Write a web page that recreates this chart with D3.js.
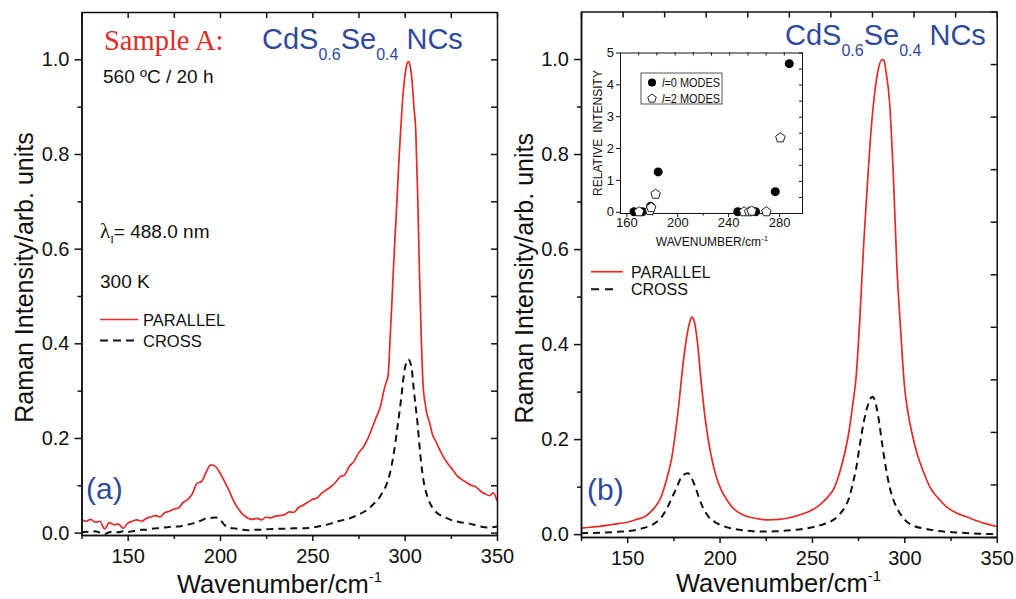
<!DOCTYPE html>
<html><head><meta charset="utf-8">
<script src="https://cdn.jsdelivr.net/npm/d3@7"></script>
<style>
body{margin:0;background:#fff;}
svg{display:block;font-family:"Liberation Sans",Arial,sans-serif;}
</style></head><body>
<svg id="c" width="1016" height="599"></svg>
<script>
// ---------------- data ----------------
const xTicks = [150, 200, 250, 300, 350];
const xMinorTicks = [125, 175, 225, 275, 325];
const yTicks = [0, 0.2, 0.4, 0.6, 0.8, 1.0];
const yMinorTicks = [0.1, 0.3, 0.5, 0.7, 0.9];
const insetXTicks = [160, 200, 240, 280];
const insetXMinor = [180, 220, 260];
const insetYTicks = [0, 1, 2, 3, 4, 5];
const seriesNames = ["PARALLEL", "CROSS"];
const insetNames = ["=0 MODES", "=2 MODES"];

// panel (a): measured spectra [wavenumber, intensity]
const parallelA = [[125,.027],[127.5,.024],[130,.028],[132.5,.022],[135,.024],[137.5,.008],[140,.021],[142.5,.017],[145,.018],[147.5,.009],[150,.020],[152.5,.024],[155,.027],[157.5,.024],[160,.030],[162.5,.033],[165,.036],[167.5,.033],[170,.042],[172.5,.045],[175,.050],[177.5,.052],[180,.064],[182.5,.070],[185,.082],[187.5,.104],[190,.108],[192.5,.128],[195,.143],[197.5,.140],[200,.126],[202.5,.108],[205,.088],[207.5,.066],[210,.050],[212.5,.038],[215,.031],[217.5,.028],[220,.030],[222.5,.027],[225,.033],[227.5,.031],[230,.035],[232.5,.036],[235,.038],[237.5,.044],[240,.043],[242.5,.053],[245,.058],[247.5,.064],[250,.070],[252.5,.073],[255,.083],[257.5,.090],[260,.097],[262.5,.106],[265,.118],[267.5,.122],[270,.140],[272.5,.150],[275,.168],[277.5,.180],[280,.198],[282.5,.222],[284,.238],[285.5,.252],[287,.268],[288.5,.296],[290,.318],[291,.33],[292,.40],[293,.48],[294,.565],[295,.64],[296,.715],[297,.795],[298,.86],[299,.92],[300,.96],[301,.987],[302,.995],[303,.985],[304,.955],[305,.90],[306,.85],[307,.72],[308,.55],[309,.41],[310,.31],[311,.275],[312,.252],[313.5,.232],[315,.208],[317,.192],[319,.175],[321,.160],[323.5,.145],[326,.133],[328.5,.120],[331,.112],[333.5,.106],[336,.100],[338.5,.097],[341,.088],[343.5,.082],[346,.078],[348,.084],[350,.067]];
const crossA = [[125,.000],[127.5,.002],[130,.001],[132.5,.003],[135,.000],[137.5,-.003],[140,.001],[142.5,.002],[145,.001],[147.5,.003],[150,.001],[152.5,.003],[155,.004],[157.5,.006],[160,.006],[162.5,.008],[165,.009],[167.5,.010],[170,.011],[172.5,.012],[175,.013],[177.5,.013],[180,.015],[182.5,.017],[185,.019],[187.5,.022],[190,.026],[192.5,.030],[195,.031],[197.5,.032],[200,.028],[202.5,.016],[205,.010],[207.5,.009],[210,.008],[212.5,.006],[215,.005],[217.5,.006],[220,.006],[225,.007],[230,.008],[235,.008],[240,.009],[245,.009],[250,.011],[255,.014],[260,.019],[265,.025],[270,.030],[275,.038],[280,.049],[283,.060],[286,.072],[288,.085],[290,.100],[292,.125],[294,.165],[296,.22],[298,.28],[300,.345],[301,.360],[302,.366],[303,.360],[304,.340],[305,.300],[306,.265],[307,.23],[308,.185],[309,.145],[310,.115],[312,.080],[314,.060],[316,.048],[318,.040],[321,.034],[325,.027],[330,.022],[335,.019],[340,.014],[345,.011],[350,.013]];

// panel (b): calculated spectra
const parallelB = [[125,.0125],[130,.0145],[135,.0165],[140,.019],[145,.022],[150,.025],[155,.031],[160,.038],[163,.048],[166,.062],[168,.075],[170,.097],[172,.125],[174,.158],[176,.21],[178,.275],[180,.35],[182,.41],[184,.448],[185,.457],[186,.452],[188,.405],[190,.322],[192,.25],[194,.196],[196,.155],[198,.124],[201,.092],[204,.072],[208,.052],[212,.042],[216,.036],[220,.033],[226,.030],[232,.031],[237,.034],[242,.039],[246,.044],[250,.051],[253,.058],[256,.068],[259,.080],[262,.097],[265,.13],[268,.175],[270,.215],[272,.27],[274,.335],[276,.46],[278,.61],[280,.735],[282,.85],[284,.93],[286,.98],[288,.999],[289,.997],[290,.975],[292,.91],[294,.76],[296,.56],[298,.43],[300,.315],[302,.255],[304,.215],[307,.168],[310,.135],[314,.098],[318,.077],[323,.057],[328,.045],[334,.036],[340,.027],[345,.021],[350,.016]];
const crossB = [[125,.002],[135,.003],[145,.005],[152,.007],[157,.011],[162,.017],[166,.026],[169,.038],[172,.058],[175,.083],[177,.100],[179,.118],[181,.126],[183,.128],[185,.117],[187,.098],[189,.075],[191,.056],[194,.037],[197,.027],[202,.017],[208,.011],[215,.007],[222,.0055],[230,.006],[238,.008],[245,.011],[252,.016],[257,.022],[262,.031],[265,.042],[268,.058],[270,.075],[272,.105],[274,.14],[276,.19],[278,.235],[280,.268],[282,.287],[283,.289],[284,.282],[286,.245],[288,.19],[290,.14],[292,.10],[294,.073],[296,.055],[299,.036],[302,.024],[306,.016],[312,.011],[320,.006],[330,.003],[340,.001],[350,.000]];

// inset: relative intensities of modes
const modesL0 = [[166,0],[172.5,0],[179,0.17],[185,1.25],[247.5,0],[261.5,0],[277,0.63],[288,4.65]];
const modesL2 = [[170,0],[178.5,0.04],[179.5,0.13],[183,0.55],[252.5,0],[256.5,0],[258.5,0.02],[270,0],[281,2.32]];

// ---------------- drawing ----------------
const RED = "#e32b23", BLUE = "#2e4a9c", FONT = "Liberation Sans, Arial, sans-serif";
const svg = d3.select("#c");

function styleAxis(g, fs, sw) {
  g.attr("font-family", FONT).attr("font-size", fs);
  g.select(".domain").attr("stroke-width", sw).attr("stroke", "#111");
  g.selectAll(".tick line").attr("stroke-width", sw).attr("stroke", "#111");
  g.selectAll(".tick text").attr("fill", "#111");
}

function mainPanel(o) {
  const x = d3.scaleLinear().domain([125, 350]).range([o.L, o.R]);
  const y = d3.scaleLinear().domain(o.yDom).range([o.B, o.T]);
  const g = svg.append("g");
  const line = d3.line().x(d => x(d[0])).y(d => y(d[1])).curve(d3.curveMonotoneX);
  g.append("path").datum(o.cross).attr("d", line).attr("fill", "none")
    .attr("stroke", "#111").attr("stroke-width", 2).attr("stroke-dasharray", "7,5");
  g.append("path").datum(o.par).attr("d", line).attr("fill", "none")
    .attr("stroke", RED).attr("stroke-width", 1.7);

  // bottom
  styleAxis(g.append("g").attr("transform", `translate(0,${o.B})`)
    .call(d3.axisBottom(x).tickValues(xMinorTicks).tickSize(4).tickSizeOuter(0).tickFormat("")), 20, 1.5);
  styleAxis(g.append("g").attr("transform", `translate(0,${o.B})`)
    .call(d3.axisBottom(x).tickValues(xTicks).tickSize(6).tickSizeOuter(0).tickPadding(8).tickFormat(d3.format("d"))), 20, 1.5);
  // left
  styleAxis(g.append("g").attr("transform", `translate(${o.L},0)`)
    .call(d3.axisLeft(y).tickValues(yMinorTicks).tickSize(4).tickSizeOuter(0).tickFormat("")), 20, 1.5);
  styleAxis(g.append("g").attr("transform", `translate(${o.L},0)`)
    .call(d3.axisLeft(y).tickValues(yTicks).tickSize(7).tickSizeOuter(0).tickPadding(5).tickFormat(d3.format(".1f"))), 20, 1.5);
  // top & right (inward)
  let topAxis, rightAxis;
  if (o.mirror) {
    topAxis = d3.axisTop(x).tickValues(xTicks.concat(xMinorTicks));
    rightAxis = d3.axisRight(y).tickValues(yTicks.concat(yMinorTicks));
  } else {
    const xs = d3.scaleLinear().domain([0, 10]).range([o.L, o.R]);
    const ys = d3.scaleLinear().domain([0, 10]).range([o.B, o.T]);
    topAxis = d3.axisTop(xs).ticks(10);
    rightAxis = d3.axisRight(ys).ticks(10);
  }
  styleAxis(g.append("g").attr("transform", `translate(0,${o.T})`)
    .call(topAxis.tickSize(-6).tickSizeOuter(0).tickFormat("")), 20, 1.5);
  styleAxis(g.append("g").attr("transform", `translate(${o.R},0)`)
    .call(rightAxis.tickSize(-6).tickSizeOuter(0).tickFormat("")), 20, 1.5);

  // axis titles
  const xt = g.append("text").attr("x", o.xtX).attr("y", o.xtY).attr("font-family", FONT)
    .attr("font-size", 25.5).attr("fill", "#111");
  xt.append("tspan").text("Wavenumber/cm");
  xt.append("tspan").attr("dy", -11).attr("font-size", 15).text("-1");
  g.append("text").attr("transform", `translate(${o.ytX},${(o.T + o.B) / 2 + 4}) rotate(-90)`)
    .attr("text-anchor", "middle").attr("font-family", FONT).attr("font-size", 25).attr("fill", "#111")
    .text("Raman Intensity/arb. units");

  // formula title
  const f = g.append("text").attr("x", o.fX).attr("y", o.fY).attr("font-family", FONT)
    .attr("font-size", 29).attr("fill", BLUE);
  f.append("tspan").text("CdS");
  f.append("tspan").attr("dy", 11).attr("font-size", 16).text("0.6");
  f.append("tspan").attr("dy", -11).text("Se");
  f.append("tspan").attr("dy", 11).attr("font-size", 16).text("0.4");
  f.append("tspan").attr("dy", -11).text(" NCs");

  // panel letter
  g.append("text").attr("x", o.lX).attr("y", o.lY).attr("font-family", FONT).attr("font-size", 30)
    .attr("fill", BLUE).text(o.letter);

  // legend
  const lg = o.legend;
  g.append("line").attr("x1", lg.x1).attr("x2", lg.x2).attr("y1", lg.y1).attr("y2", lg.y1)
    .attr("stroke", RED).attr("stroke-width", 1.7);
  g.append("line").attr("x1", lg.x1).attr("x2", lg.x2d).attr("y1", lg.y2).attr("y2", lg.y2)
    .attr("stroke", "#111").attr("stroke-width", 2).attr("stroke-dasharray", lg.dash);
  g.append("text").attr("x", lg.tx).attr("y", lg.y1 + 6).attr("font-family", FONT).attr("font-size", lg.fs)
    .attr("fill", "#111").text(seriesNames[0]);
  g.append("text").attr("x", lg.tx).attr("y", lg.y2 + 6).attr("font-family", FONT).attr("font-size", lg.fs)
    .attr("fill", "#111").text(seriesNames[1]);
  return { g, x, y };
}

const A = mainPanel({
  L: 81.5, R: 497, T: 12, B: 535, yDom: [-0.005, 1.1], par: parallelA, cross: crossA, mirror: true,
  xtX: 177, xtY: 593, ytX: 33, fX: 262, fY: 49, lX: 86, lY: 499, letter: "(a)",
  legend: { x1: 100, x2: 138, x2d: 138, y1: 319.5, y2: 340.5, tx: 143, fs: 16.5, dash: "8,5" }
});
const B = mainPanel({
  L: 581, R: 996.7, T: 11.5, B: 537, yDom: [-0.006, 1.1], par: parallelB, cross: crossB, mirror: false,
  xtX: 676, xtY: 592, ytX: 533, fX: 785, fY: 45, lX: 587, lY: 500, letter: "(b)",
  legend: { x1: 591, x2: 623, x2d: 614, y1: 271.7, y2: 289.3, tx: 631, fs: 16, dash: "8,6" }
});

// annotations panel (a)
svg.append("text").attr("x", 104).attr("y", 50).attr("font-family", "Liberation Serif, Times New Roman, serif")
  .attr("font-size", 28.5).attr("fill", RED).text("Sample A:");
svg.append("text").attr("x", 103).attr("y", 83).attr("font-family", FONT).attr("font-size", 19)
  .attr("fill", "#111").text("560 \u00baC / 20 h");
const lam = svg.append("text").attr("x", 100).attr("y", 238).attr("font-family", FONT).attr("font-size", 19).attr("fill", "#111");
lam.append("tspan").attr("font-family", "Liberation Serif, serif").attr("font-size", 21).text("\u03bb");
lam.append("tspan").attr("font-family", "Liberation Serif, serif").attr("font-size", 11).attr("dy", 5).text("I");
lam.append("tspan").attr("dy", -5).text("= 488.0 nm");
svg.append("text").attr("x", 100).attr("y", 288).attr("font-family", FONT).attr("font-size", 19)
  .attr("fill", "#111").text("300 K");

// ---------------- inset ----------------
const ix = d3.scaleLinear().domain([155, 298]).range([620, 802]);
const iy = d3.scaleLinear().domain([-0.04, 5]).range([213, 52.5]);
const ig = svg.append("g");
ig.append("rect").attr("x", 620).attr("y", 52.5).attr("width", 182).attr("height", 160.5)
  .attr("fill", "#fff").attr("stroke", "none");
styleAxis(ig.append("g").attr("transform", "translate(0,213)")
  .call(d3.axisBottom(ix).tickValues(insetXMinor).tickSize(2.5).tickSizeOuter(0).tickFormat("")), 13, 1);
styleAxis(ig.append("g").attr("transform", "translate(0,213)")
  .call(d3.axisBottom(ix).tickValues(insetXTicks).tickSize(4).tickSizeOuter(0).tickPadding(1).tickFormat(d3.format("d"))), 13, 1);
styleAxis(ig.append("g").attr("transform", "translate(620,0)")
  .call(d3.axisLeft(iy).tickValues(insetYTicks).tickSize(4).tickSizeOuter(0).tickPadding(2).tickFormat(d3.format("d"))), 13, 1);
const ixs = d3.scaleLinear().domain([0, 10]).range([620, 802]);
const iys = d3.scaleLinear().domain([0, 10]).range([213, 52.5]);
styleAxis(ig.append("g").attr("transform", "translate(0,52.5)")
  .call(d3.axisTop(ixs).ticks(10).tickSize(-3).tickSizeOuter(0).tickFormat("")), 12, 1);
styleAxis(ig.append("g").attr("transform", "translate(802,0)")
  .call(d3.axisRight(iys).ticks(10).tickSize(-3).tickSizeOuter(0).tickFormat("")), 12, 1);

const ixt = ig.append("text").attr("x", 712).attr("y", 246).attr("text-anchor", "middle")
  .attr("font-family", FONT).attr("font-size", 12).attr("fill", "#111");
ixt.append("tspan").text("WAVENUMBER/cm");
ixt.append("tspan").attr("dy", -5).attr("font-size", 8).text("-1");
ig.append("text").attr("transform", "translate(602,133) rotate(-90)").attr("text-anchor", "middle")
  .attr("font-family", FONT).attr("font-size", 12).attr("fill", "#111").text("RELATIVE\u2002INTENSITY");

function pentagon(r) {
  const pts = d3.range(5).map(i => {
    const a = -Math.PI / 2 + i * 2 * Math.PI / 5;
    return [r * Math.cos(a), r * Math.sin(a)];
  });
  return "M" + pts.map(p => p.join(",")).join("L") + "Z";
}
ig.selectAll("circle.l0").data(modesL0).join("circle").attr("class", "l0")
  .attr("cx", d => ix(d[0])).attr("cy", d => iy(d[1])).attr("r", 4.5).attr("fill", "#000");
ig.selectAll("path.l2").data(modesL2).join("path").attr("class", "l2")
  .attr("transform", d => `translate(${ix(d[0])},${iy(d[1])})`).attr("d", pentagon(5))
  .attr("fill", "#fff").attr("stroke", "#222").attr("stroke-width", 1);

// inset legend
ig.append("rect").attr("x", 641).attr("y", 73).attr("width", 81).attr("height", 31)
  .attr("fill", "#fff").attr("stroke", "#555").attr("stroke-width", 1);
ig.append("circle").attr("cx", 652).attr("cy", 82.5).attr("r", 4).attr("fill", "#000");
ig.append("path").attr("transform", "translate(652,98.5)").attr("d", pentagon(4.5))
  .attr("fill", "#fff").attr("stroke", "#222").attr("stroke-width", 1);
[86.5, 102.5].forEach((yy, i) => {
  const t = ig.append("text").attr("x", 662).attr("y", yy).attr("font-family", FONT)
    .attr("font-size", 12).attr("fill", "#111").attr("textLength", 58).attr("lengthAdjust", "spacingAndGlyphs");
  t.append("tspan").attr("font-style", "italic").text("l");
  t.append("tspan").text(insetNames[i]);
});
</script>
</body></html>
